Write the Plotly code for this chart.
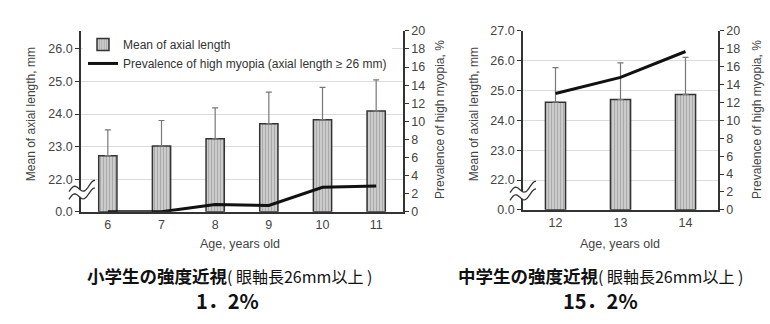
import math
import plotly.graph_objects as go

# ---------------- data ----------------
ages_elem = [6, 7, 8, 9, 10, 11]
mean_elem = [22.72, 23.02, 23.24, 23.70, 23.82, 24.09]
sd_elem = [0.79, 0.78, 0.95, 0.97, 1.00, 0.96]
prev_elem = [0.0, 0.0, 0.8, 0.7, 2.7, 2.85]

ages_jh = [12, 13, 14]
mean_jh = [24.61, 24.70, 24.87]
sd_jh = [1.16, 1.23, 1.24]
prev_jh = [13.0, 14.8, 17.7]

left_ticks_elem = ["0.0", "22.0", "23.0", "24.0", "25.0", "26.0"]
left_ticks_jh = ["0.0", "22.0", "23.0", "24.0", "25.0", "26.0", "27.0"]

title_elem = "<b>小学生の強度近視</b><span style='font-size:16px'>( 眼軸長26mm以上 )</span>"
title_jh = "<b>中学生の強度近視</b><span style='font-size:16px'>( 眼軸長26mm以上 )</span>"
value_elem = "1．2%"
value_jh = "15．2%"

BREAK = 21.0  # axis break: 0 then 22..

W, H = 770, 324
def px(x):
    return x / W
def py(y):
    return 1 - y / H

FONT = "Liberation Sans, Arial, sans-serif"
CJK = "Noto Sans CJK JP"
TICKC = "#444444"

def pos(vals):
    return [v - BREAK for v in vals]

fig = go.Figure()

bar_marker = dict(
    color="#c4c4c4",
    line=dict(color="#333333", width=1.5),
    pattern=dict(shape="|", fgcolor="#858585", bgcolor="#cfcfcf", size=3, solidity=0.4),
)
err_style = dict(type="data", symmetric=False, color="#777777", thickness=1.2, width=3)

fig.add_trace(go.Bar(
    x=ages_elem, y=pos(mean_elem), width=0.34, marker=bar_marker,
    error_y=dict(array=sd_elem, arrayminus=[0] * len(sd_elem), **err_style),
    name="Mean of axial length", xaxis="x", yaxis="y", showlegend=True,
))
fig.add_trace(go.Scatter(
    x=ages_elem, y=prev_elem, mode="lines", line=dict(color="#111111", width=3),
    name="Prevalence of high myopia (axial length ≥ 26 mm)", xaxis="x", yaxis="y2", showlegend=True,
))
fig.add_trace(go.Bar(
    x=ages_jh, y=pos(mean_jh), width=0.31, marker=bar_marker,
    error_y=dict(array=sd_jh, arrayminus=[0] * len(sd_jh), **err_style),
    name="Mean of axial length", xaxis="x2", yaxis="y3", showlegend=False,
))
fig.add_trace(go.Scatter(
    x=ages_jh, y=prev_jh, mode="lines", line=dict(color="#111111", width=3),
    name="Prevalence", xaxis="x2", yaxis="y4", showlegend=False,
))

axis_common = dict(showline=True, linecolor="#333333", linewidth=1.6,
                   tickfont=dict(family=FONT, size=12.5, color=TICKC), zeroline=False)

fig.update_layout(
    width=W, height=H, margin=dict(l=0, r=0, t=0, b=0),
    paper_bgcolor="white", plot_bgcolor="white",
    font=dict(family=FONT, color=TICKC),
    showlegend=True,
    legend=dict(x=px(83), y=py(24), xanchor="left", yanchor="top",
                bgcolor="white", font=dict(family=FONT, size=12, color="#333333"),
                tracegroupgap=2, itemwidth=30),
    xaxis=dict(domain=[px(81), px(403)], range=[5.5, 11.5], anchor="y",
               tickvals=ages_elem, ticks="", showgrid=False, **axis_common),
    yaxis=dict(domain=[py(214), py(25)], range=[0, 5.55], anchor="x",
               tickvals=list(range(len(left_ticks_elem))), ticktext=left_ticks_elem,
               ticks="outside", ticklen=4, tickcolor="#333333",
               showgrid=True, gridcolor="#dcdcdc", gridwidth=1, **axis_common),
    yaxis2=dict(overlaying="y", side="right", anchor="x", range=[0, 20], dtick=2,
                ticks="outside", ticklen=4, tickcolor="#333333", showgrid=False, **axis_common),
    xaxis2=dict(domain=[px(523), px(718)], range=[11.5, 14.5], anchor="y3",
                tickvals=ages_jh, ticks="", showgrid=False, **axis_common),
    yaxis3=dict(domain=[py(212), py(25)], range=[0, 6], anchor="x2",
                tickvals=list(range(len(left_ticks_jh))), ticktext=left_ticks_jh,
                ticks="outside", ticklen=4, tickcolor="#333333",
                showgrid=True, gridcolor="#dcdcdc", gridwidth=1, **axis_common),
    yaxis4=dict(overlaying="y3", side="right", anchor="x2", range=[0, 20], dtick=2,
                ticks="outside", ticklen=4, tickcolor="#333333", showgrid=False, **axis_common),
)

ann = []
def atext(x, y, text, size=12, angle=0, family=FONT, color=TICKC, xanchor="center"):
    ann.append(dict(x=px(x), y=py(y), xref="paper", yref="paper", text=text, showarrow=False,
                    textangle=angle, xanchor=xanchor, yanchor="middle",
                    font=dict(family=family, size=size, color=color)))

atext(31, 112, "Mean of axial length, mm", size=12, angle=-90)
atext(440, 118, "Prevalence of high myopia, %", size=12, angle=-90)
atext(474, 112, "Mean of axial length, mm", size=12, angle=-90)
atext(757, 118, "Prevalence of high myopia, %", size=12, angle=-90)
atext(240, 248, "Age, years old", size=12.5)
atext(620, 248, "Age, years old", size=12.5)
atext(229, 281, title_elem, size=17.5, family=CJK, color="#111111")
atext(600, 281, title_jh, size=17.5, family=CJK, color="#111111")
atext(227, 307, "<b>" + value_elem + "</b>", size=20, family=CJK, color="#111111")
atext(600, 307, "<b>" + value_jh + "</b>", size=20, family=CJK, color="#111111")
fig.update_layout(annotations=ann)

# axis-break marks (decoration)
def wave(cx, cy, dy):
    pts = []
    n = 24
    for i in range(n + 1):
        t = i / n
        x = cx - 13 + 26 * t
        y = cy + dy - (t - 0.5) * 8 - 4 * math.sin(2 * math.pi * 1.3 * t)
        pts.append((x, y))
    return pts

shapes = []
for cx, cy in [(82, 193), (523, 194)]:
    up = wave(cx, cy, -4)
    lo = wave(cx, cy, 4)
    poly = up + lo[::-1]
    d = "M " + " L ".join(f"{px(x):.5f},{py(y):.5f}" for x, y in poly) + " Z"
    shapes.append(dict(type="path", path=d, xref="paper", yref="paper",
                       fillcolor="white", line=dict(width=0), layer="above"))
    for pts in (up, lo):
        d = "M " + " L ".join(f"{px(x):.5f},{py(y):.5f}" for x, y in pts)
        shapes.append(dict(type="path", path=d, xref="paper", yref="paper",
                           line=dict(color="#333333", width=1.3), layer="above"))
fig.update_layout(shapes=shapes)

fig.write_html("out.html")
